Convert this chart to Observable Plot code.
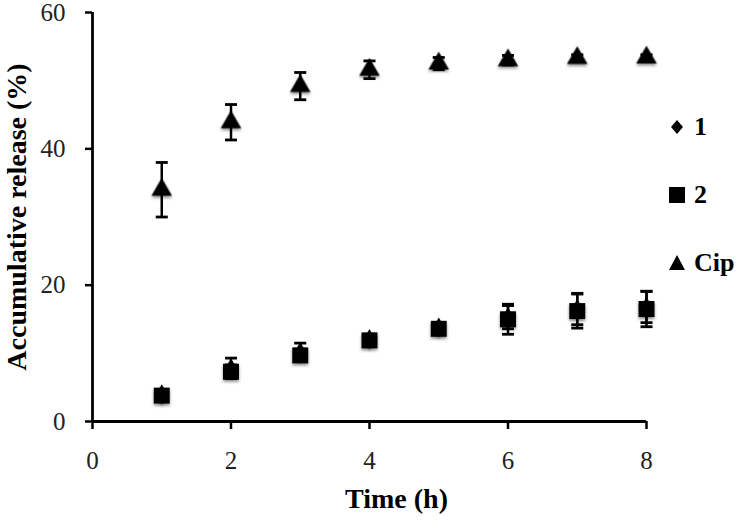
<!DOCTYPE html>
<html>
<head>
<meta charset="utf-8">
<script src="https://cdn.jsdelivr.net/npm/d3@7"></script>
<script src="https://cdn.jsdelivr.net/npm/@observablehq/plot@0.6"></script>
<style>
  html, body { margin: 0; padding: 0; background: #fff; }
  #wrap { position: relative; width: 750px; height: 525px; font-family: "Liberation Serif", "Times New Roman", serif; }
  #wrap svg { font-family: "Liberation Serif", "Times New Roman", serif; overflow: visible; }
  [aria-label="y-axis label"] text { font-weight: bold; font-size: 28px; fill: #000; }
  [aria-label="x-axis tick label"] text, [aria-label="y-axis tick label"] text { fill: #222; }
  .mk { filter: drop-shadow(0px 2px 1.5px rgba(0,0,0,0.45)); }
  .legend { position: absolute; left: 668px; top: 112px; font-weight: bold; font-size: 26px; color: #000; }
  .legend .row { position: absolute; left: 0; display: flex; align-items: center; white-space: nowrap; }
  .legend svg { display: block; margin-right: 8px; }
</style>
</head>
<body>
<div id="wrap"></div>
<script>
const times = [1, 2, 3, 4, 5, 6, 7, 8];
const seriesNames = ["1", "2", "Cip"];
const release1 = [4.0, 7.8, 10.2, 12.1, 13.8, 15.3, 16.5, 16.8];
const error1 = [0.6, 1.5, 1.3, 0.7, 0.6, 1.7, 2.3, 2.3];
const release2 = [3.8, 7.3, 9.7, 11.9, 13.6, 15.0, 16.2, 16.5];
const error2 = [0.5, 1.0, 0.9, 0.6, 0.6, 2.2, 2.5, 2.6];
const releaseCip = [34.0, 43.9, 49.2, 51.6, 52.5, 53.0, 53.3, 53.4];
const errorCip = [4.0, 2.6, 2.0, 1.3, 0.9, 0.7, 0.5, 0.4];
const xTicks = [0, 2, 4, 6, 8];
const yTicks = [0, 20, 40, 60];
const xTitle = "Time (h)";
const yTitle = "Accumulative release (%)";

const build = (name, vals, errs) => times.map((t, i) => ({series: name, t, v: vals[i], lo: vals[i] - errs[i], hi: vals[i] + errs[i]}));
const d1 = build(seriesNames[0], release1, error1);
const d2 = build(seriesNames[1], release2, error2);
const d3c = build(seriesNames[2], releaseCip, errorCip);
const all = [...d1, ...d2, ...d3c];
const cap = 0.087;

const chart = Plot.plot({
  width: 750,
  height: 525,
  marginLeft: 92,
  marginRight: 104,
  marginTop: 12,
  marginBottom: 104,
  x: {domain: [0, 8]},
  y: {domain: [0, 60]},
  style: {fontFamily: '"Liberation Serif", "Times New Roman", serif', background: "#fff", color: "#000"},
  marks: [
    Plot.axisX({ticks: xTicks, tickSize: 8, tickPadding: 22, fontSize: 25, strokeWidth: 2.5, label: null}),
    Plot.axisY({ticks: yTicks, tickSize: 7, tickPadding: 20, fontSize: 25, strokeWidth: 2.5, label: yTitle, labelAnchor: "center", labelOffset: 86, labelArrow: "none"}),
    Plot.text([xTitle], {text: d => d, frameAnchor: "bottom", dx: 27, dy: 86, fontSize: 28, fontWeight: "bold", fill: "#000"}),
    Plot.ruleX([0], {strokeWidth: 2.8}),
    Plot.ruleY([0], {strokeWidth: 2.8}),
    Plot.ruleX(all, {x: "t", y1: "lo", y2: "hi", strokeWidth: 2.5}),
    Plot.link(all, {x1: d => d.t - cap, x2: d => d.t + cap, y1: "hi", y2: "hi", strokeWidth: 2.8}),
    Plot.link(all, {x1: d => d.t - cap, x2: d => d.t + cap, y1: "lo", y2: "lo", strokeWidth: 2.8}),
    Plot.dot(d1, {x: "t", y: "v", symbol: "diamond", r: 6, fill: "#000", stroke: "none", className: "mk"}),
    Plot.dot(d2, {x: "t", y: "v", symbol: "square", r: 9, fill: "#000", stroke: "none", className: "mk"}),
    Plot.dot(d3c, {x: "t", y: "v", symbol: "triangle", r: 7.6, fill: "#000", stroke: "none", className: "mk"})
  ]
});
const wrap = document.getElementById("wrap");
wrap.appendChild(chart);

// legend
const legend = document.createElement("div");
legend.className = "legend";
const shapes = {
  "1": '<svg width="18" height="18" viewBox="-9 -9 18 18"><path d="M0,-7L6,0L0,7L-6,0Z" fill="#000"/></svg>',
  "2": '<svg width="18" height="18" viewBox="-9 -9 18 18"><rect x="-8" y="-8" width="16" height="16" fill="#000"/></svg>',
  "Cip": '<svg width="18" height="18" viewBox="-9 -9 18 18"><path d="M0,-8L8,7L-8,7Z" fill="#000"/></svg>'
};
const tops = [0, 68, 136];
seriesNames.forEach((name, i) => {
  const row = document.createElement("div");
  row.className = "row";
  row.style.top = tops[i] + "px";
  row.innerHTML = shapes[name] + "<span>" + name + "</span>";
  legend.appendChild(row);
});
wrap.appendChild(legend);
</script>
</body>
</html>
